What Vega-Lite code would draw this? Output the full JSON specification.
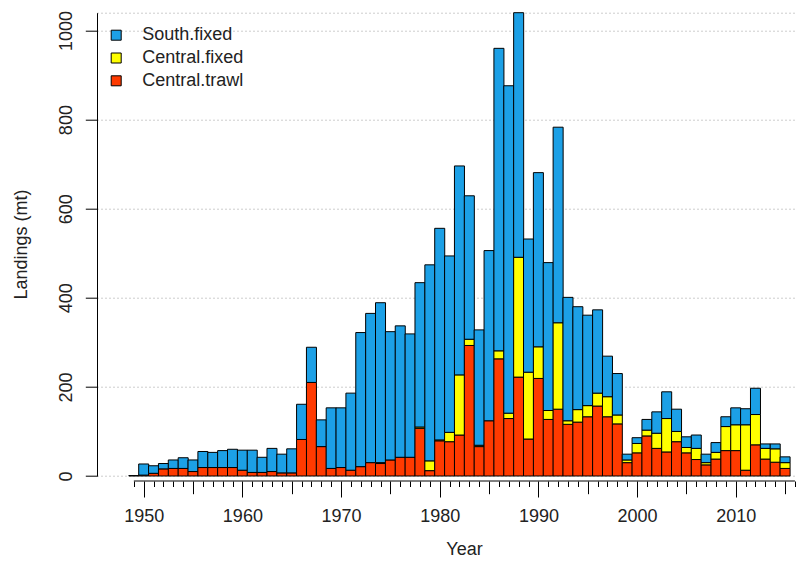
{
  "$schema": "https://vega.github.io/schema/vega-lite/v6.json",
  "width": 699,
  "height": 463.3,
  "autosize": {"type": "none"},
  "padding": {"left": 97, "top": 12.7, "right": 0, "bottom": 93},
  "background": "white",
  "config": {"view": {"stroke": null}, "font": "Liberation Sans"},
  "data": {"values": [
    {"Year":1949,"Fleet":"South.fixed","Landings":1},
    {"Year":1950,"Fleet":"Central.trawl","Landings":2},{"Year":1950,"Fleet":"South.fixed","Landings":25},
    {"Year":1951,"Fleet":"Central.trawl","Landings":6},{"Year":1951,"Fleet":"South.fixed","Landings":17},
    {"Year":1952,"Fleet":"Central.trawl","Landings":16},{"Year":1952,"Fleet":"South.fixed","Landings":12},
    {"Year":1953,"Fleet":"Central.trawl","Landings":17},{"Year":1953,"Fleet":"South.fixed","Landings":19},
    {"Year":1954,"Fleet":"Central.trawl","Landings":17},{"Year":1954,"Fleet":"South.fixed","Landings":24},
    {"Year":1955,"Fleet":"Central.trawl","Landings":10},{"Year":1955,"Fleet":"South.fixed","Landings":26},
    {"Year":1956,"Fleet":"Central.trawl","Landings":19},{"Year":1956,"Fleet":"South.fixed","Landings":36},
    {"Year":1957,"Fleet":"Central.trawl","Landings":19},{"Year":1957,"Fleet":"South.fixed","Landings":34},
    {"Year":1958,"Fleet":"Central.trawl","Landings":19},{"Year":1958,"Fleet":"South.fixed","Landings":38},
    {"Year":1959,"Fleet":"Central.trawl","Landings":19},{"Year":1959,"Fleet":"South.fixed","Landings":41},
    {"Year":1960,"Fleet":"Central.trawl","Landings":13},{"Year":1960,"Fleet":"South.fixed","Landings":45},
    {"Year":1961,"Fleet":"Central.trawl","Landings":8},{"Year":1961,"Fleet":"South.fixed","Landings":50},
    {"Year":1962,"Fleet":"Central.trawl","Landings":8},{"Year":1962,"Fleet":"South.fixed","Landings":34},
    {"Year":1963,"Fleet":"Central.trawl","Landings":10},{"Year":1963,"Fleet":"South.fixed","Landings":52},
    {"Year":1964,"Fleet":"Central.trawl","Landings":7},{"Year":1964,"Fleet":"South.fixed","Landings":42},
    {"Year":1965,"Fleet":"Central.trawl","Landings":7},{"Year":1965,"Fleet":"South.fixed","Landings":54},
    {"Year":1966,"Fleet":"Central.trawl","Landings":82},{"Year":1966,"Fleet":"South.fixed","Landings":79},
    {"Year":1967,"Fleet":"Central.trawl","Landings":210},{"Year":1967,"Fleet":"South.fixed","Landings":79},
    {"Year":1968,"Fleet":"Central.trawl","Landings":66},{"Year":1968,"Fleet":"South.fixed","Landings":60},
    {"Year":1969,"Fleet":"Central.trawl","Landings":17},{"Year":1969,"Fleet":"South.fixed","Landings":136},
    {"Year":1970,"Fleet":"Central.trawl","Landings":19},{"Year":1970,"Fleet":"South.fixed","Landings":134},
    {"Year":1971,"Fleet":"Central.trawl","Landings":13},{"Year":1971,"Fleet":"South.fixed","Landings":173},
    {"Year":1972,"Fleet":"Central.trawl","Landings":21},{"Year":1972,"Fleet":"South.fixed","Landings":301},
    {"Year":1973,"Fleet":"Central.trawl","Landings":30},{"Year":1973,"Fleet":"South.fixed","Landings":335},
    {"Year":1974,"Fleet":"Central.trawl","Landings":28},{"Year":1974,"Fleet":"Central.fixed","Landings":2},{"Year":1974,"Fleet":"South.fixed","Landings":359},
    {"Year":1975,"Fleet":"Central.trawl","Landings":36},{"Year":1975,"Fleet":"South.fixed","Landings":288},
    {"Year":1976,"Fleet":"Central.trawl","Landings":42},{"Year":1976,"Fleet":"South.fixed","Landings":295},
    {"Year":1977,"Fleet":"Central.trawl","Landings":42},{"Year":1977,"Fleet":"South.fixed","Landings":277},
    {"Year":1978,"Fleet":"Central.trawl","Landings":107},{"Year":1978,"Fleet":"Central.fixed","Landings":3},{"Year":1978,"Fleet":"South.fixed","Landings":324},
    {"Year":1979,"Fleet":"Central.trawl","Landings":12},{"Year":1979,"Fleet":"Central.fixed","Landings":22},{"Year":1979,"Fleet":"South.fixed","Landings":440},
    {"Year":1980,"Fleet":"Central.trawl","Landings":79},{"Year":1980,"Fleet":"Central.fixed","Landings":2},{"Year":1980,"Fleet":"South.fixed","Landings":475},
    {"Year":1981,"Fleet":"Central.trawl","Landings":77},{"Year":1981,"Fleet":"Central.fixed","Landings":21},{"Year":1981,"Fleet":"South.fixed","Landings":396},
    {"Year":1982,"Fleet":"Central.trawl","Landings":92},{"Year":1982,"Fleet":"Central.fixed","Landings":135},{"Year":1982,"Fleet":"South.fixed","Landings":469},
    {"Year":1983,"Fleet":"Central.trawl","Landings":293},{"Year":1983,"Fleet":"Central.fixed","Landings":14},{"Year":1983,"Fleet":"South.fixed","Landings":322},
    {"Year":1984,"Fleet":"Central.trawl","Landings":66},{"Year":1984,"Fleet":"Central.fixed","Landings":3},{"Year":1984,"Fleet":"South.fixed","Landings":259},
    {"Year":1985,"Fleet":"Central.trawl","Landings":124},{"Year":1985,"Fleet":"South.fixed","Landings":382},
    {"Year":1986,"Fleet":"Central.trawl","Landings":263},{"Year":1986,"Fleet":"Central.fixed","Landings":18},{"Year":1986,"Fleet":"South.fixed","Landings":679},
    {"Year":1987,"Fleet":"Central.trawl","Landings":129},{"Year":1987,"Fleet":"Central.fixed","Landings":12},{"Year":1987,"Fleet":"South.fixed","Landings":735},
    {"Year":1988,"Fleet":"Central.trawl","Landings":222},{"Year":1988,"Fleet":"Central.fixed","Landings":269},{"Year":1988,"Fleet":"South.fixed","Landings":549},
    {"Year":1989,"Fleet":"Central.trawl","Landings":83},{"Year":1989,"Fleet":"Central.fixed","Landings":150},{"Year":1989,"Fleet":"South.fixed","Landings":299},
    {"Year":1990,"Fleet":"Central.trawl","Landings":219},{"Year":1990,"Fleet":"Central.fixed","Landings":71},{"Year":1990,"Fleet":"South.fixed","Landings":391},
    {"Year":1991,"Fleet":"Central.trawl","Landings":127},{"Year":1991,"Fleet":"Central.fixed","Landings":20},{"Year":1991,"Fleet":"South.fixed","Landings":332},
    {"Year":1992,"Fleet":"Central.trawl","Landings":150},{"Year":1992,"Fleet":"Central.fixed","Landings":194},{"Year":1992,"Fleet":"South.fixed","Landings":439},
    {"Year":1993,"Fleet":"Central.trawl","Landings":116},{"Year":1993,"Fleet":"Central.fixed","Landings":8},{"Year":1993,"Fleet":"South.fixed","Landings":277},
    {"Year":1994,"Fleet":"Central.trawl","Landings":121},{"Year":1994,"Fleet":"Central.fixed","Landings":28},{"Year":1994,"Fleet":"South.fixed","Landings":231},
    {"Year":1995,"Fleet":"Central.trawl","Landings":133},{"Year":1995,"Fleet":"Central.fixed","Landings":25},{"Year":1995,"Fleet":"South.fixed","Landings":203},
    {"Year":1996,"Fleet":"Central.trawl","Landings":157},{"Year":1996,"Fleet":"Central.fixed","Landings":29},{"Year":1996,"Fleet":"South.fixed","Landings":187},
    {"Year":1997,"Fleet":"Central.trawl","Landings":133},{"Year":1997,"Fleet":"Central.fixed","Landings":45},{"Year":1997,"Fleet":"South.fixed","Landings":91},
    {"Year":1998,"Fleet":"Central.trawl","Landings":117},{"Year":1998,"Fleet":"Central.fixed","Landings":20},{"Year":1998,"Fleet":"South.fixed","Landings":93},
    {"Year":1999,"Fleet":"Central.trawl","Landings":30},{"Year":1999,"Fleet":"Central.fixed","Landings":6},{"Year":1999,"Fleet":"South.fixed","Landings":13},
    {"Year":2000,"Fleet":"Central.trawl","Landings":52},{"Year":2000,"Fleet":"Central.fixed","Landings":21},{"Year":2000,"Fleet":"South.fixed","Landings":13},
    {"Year":2001,"Fleet":"Central.trawl","Landings":90},{"Year":2001,"Fleet":"Central.fixed","Landings":13},{"Year":2001,"Fleet":"South.fixed","Landings":24},
    {"Year":2002,"Fleet":"Central.trawl","Landings":62},{"Year":2002,"Fleet":"Central.fixed","Landings":34},{"Year":2002,"Fleet":"South.fixed","Landings":48},
    {"Year":2003,"Fleet":"Central.trawl","Landings":54},{"Year":2003,"Fleet":"Central.fixed","Landings":75},{"Year":2003,"Fleet":"South.fixed","Landings":60},
    {"Year":2004,"Fleet":"Central.trawl","Landings":77},{"Year":2004,"Fleet":"Central.fixed","Landings":23},{"Year":2004,"Fleet":"South.fixed","Landings":50},
    {"Year":2005,"Fleet":"Central.trawl","Landings":52},{"Year":2005,"Fleet":"Central.fixed","Landings":12},{"Year":2005,"Fleet":"South.fixed","Landings":24},
    {"Year":2006,"Fleet":"Central.trawl","Landings":37},{"Year":2006,"Fleet":"Central.fixed","Landings":25},{"Year":2006,"Fleet":"South.fixed","Landings":30},
    {"Year":2007,"Fleet":"Central.trawl","Landings":25},{"Year":2007,"Fleet":"Central.fixed","Landings":5},{"Year":2007,"Fleet":"South.fixed","Landings":19},
    {"Year":2008,"Fleet":"Central.trawl","Landings":38},{"Year":2008,"Fleet":"Central.fixed","Landings":15},{"Year":2008,"Fleet":"South.fixed","Landings":22},
    {"Year":2009,"Fleet":"Central.trawl","Landings":57},{"Year":2009,"Fleet":"Central.fixed","Landings":54},{"Year":2009,"Fleet":"South.fixed","Landings":22},
    {"Year":2010,"Fleet":"Central.trawl","Landings":57},{"Year":2010,"Fleet":"Central.fixed","Landings":58},{"Year":2010,"Fleet":"South.fixed","Landings":38},
    {"Year":2011,"Fleet":"Central.trawl","Landings":13},{"Year":2011,"Fleet":"Central.fixed","Landings":102},{"Year":2011,"Fleet":"South.fixed","Landings":36},
    {"Year":2012,"Fleet":"Central.trawl","Landings":70},{"Year":2012,"Fleet":"Central.fixed","Landings":68},{"Year":2012,"Fleet":"South.fixed","Landings":59},
    {"Year":2013,"Fleet":"Central.trawl","Landings":38},{"Year":2013,"Fleet":"Central.fixed","Landings":24},{"Year":2013,"Fleet":"South.fixed","Landings":10},
    {"Year":2014,"Fleet":"Central.trawl","Landings":31},{"Year":2014,"Fleet":"Central.fixed","Landings":30},{"Year":2014,"Fleet":"South.fixed","Landings":11},
    {"Year":2015,"Fleet":"Central.trawl","Landings":17},{"Year":2015,"Fleet":"Central.fixed","Landings":13},{"Year":2015,"Fleet":"South.fixed","Landings":13}
  ]},
  "transform": [
    {"calculate": "indexof(['Central.trawl','Central.fixed','South.fixed'], datum.Fleet)", "as": "StackOrder"}
  ],
  "layer": [
    {
      "mark": {"type": "bar", "width": 10.01, "stroke": "black", "strokeWidth": 1},
      "encoding": {
        "x": {
          "field": "Year", "type": "quantitative",
          "scale": {"domain": [1945.774, 2015.6], "nice": false, "zero": false},
          "axis": {
            "values": [1949,1950,1951,1952,1953,1954,1955,1956,1957,1958,1959,1960,1961,1962,1963,1964,1965,1966,1967,1968,1969,1970,1971,1972,1973,1974,1975,1976,1977,1978,1979,1980,1981,1982,1983,1984,1985,1986,1987,1988,1989,1990,1991,1992,1993,1994,1995,1996,1997,1998,1999,2000,2001,2002,2003,2004,2005,2006,2007,2008,2009,2010,2011,2012,2013,2014,2015,2016],
            "tickCount": 500,
            "offset": 5,
            "domain": false,
            "grid": false,
            "tickColor": "black",
            "tickWidth": 1,
            "tickSize": {"condition": [{"test": "datum.value % 10 === 0", "value": 16}, {"test": "datum.value % 5 === 0", "value": 12.7}], "value": 5.5},
            "labelExpr": "datum.value % 10 === 0 ? '' + datum.value : ''",
            "labelFontSize": 18,
            "labelColor": "#222",
            "labelPadding": 10,
            "labelFlush": false,
            "labelOverlap": false,
            "labelBound": false,
            "title": "Year",
            "titleFontSize": 18,
            "titleFontWeight": "normal",
            "titleColor": "#222",
            "titleX": 367,
            "titleY": 73.7,
            "titleAlign": "center",
            "titleBaseline": "alphabetic"
          }
        },
        "y": {
          "field": "Landings", "type": "quantitative", "stack": "zero",
          "scale": {"domain": [0, 1040], "nice": false, "zero": true},
          "axis": {
            "values": [0, 200, 400, 600, 800, 1000, 1040],
            "tickCount": 100,
            "domain": true,
            "domainColor": "black",
            "domainWidth": 1,
            "tickColor": "black",
            "tickWidth": 1,
            "tickSize": 11.7,
            "tickOpacity": {"condition": {"test": "datum.value > 1000", "value": 0}, "value": 1},
            "labelExpr": "datum.value > 1000 ? '' : '' + datum.value",
            "labelAngle": 270,
            "labelAlign": "center",
            "labelBaseline": "bottom",
            "labelPadding": 9.5,
            "labelFontSize": 18,
            "labelColor": "#222",
            "labelFlush": false,
            "labelOverlap": false,
            "labelBound": false,
            "grid": true,
            "gridColor": "#9a9a9a",
            "gridDash": [1, 3],
            "gridWidth": 1,
            "title": "Landings (mt)",
            "titleFontSize": 18,
            "titleFontWeight": "normal",
            "titleColor": "#222",
            "titleAngle": 270,
            "titleX": -70.5,
            "titleY": 231.3,
            "titleAlign": "center",
            "titleBaseline": "alphabetic"
          }
        },
        "color": {
          "field": "Fleet", "type": "nominal",
          "scale": {"domain": ["South.fixed", "Central.fixed", "Central.trawl"], "range": ["#1CA0E6", "#FFFF00", "#FF3A00"]},
          "legend": {
            "orient": "none",
            "legendX": 10.2,
            "legendY": 13.5,
            "title": null,
            "padding": 0,
            "symbolType": "square",
            "symbolSize": 100,
            "symbolStrokeColor": "black",
            "symbolStrokeWidth": 1,
            "symbolOpacity": 1,
            "labelFontSize": 18,
            "labelColor": "#222",
            "labelOffset": 17,
            "rowPadding": 4.8
          }
        },
        "order": {"field": "StackOrder", "type": "quantitative", "sort": "ascending"}
      }
    },
    {
      "mark": {"type": "rule", "color": "black", "strokeWidth": 1, "yOffset": 5},
      "encoding": {
        "x": {"aggregate": "min", "field": "Year", "type": "quantitative"},
        "x2": {"datum": 2016},
        "y": {"datum": 0}
      }
    }
  ]
}
